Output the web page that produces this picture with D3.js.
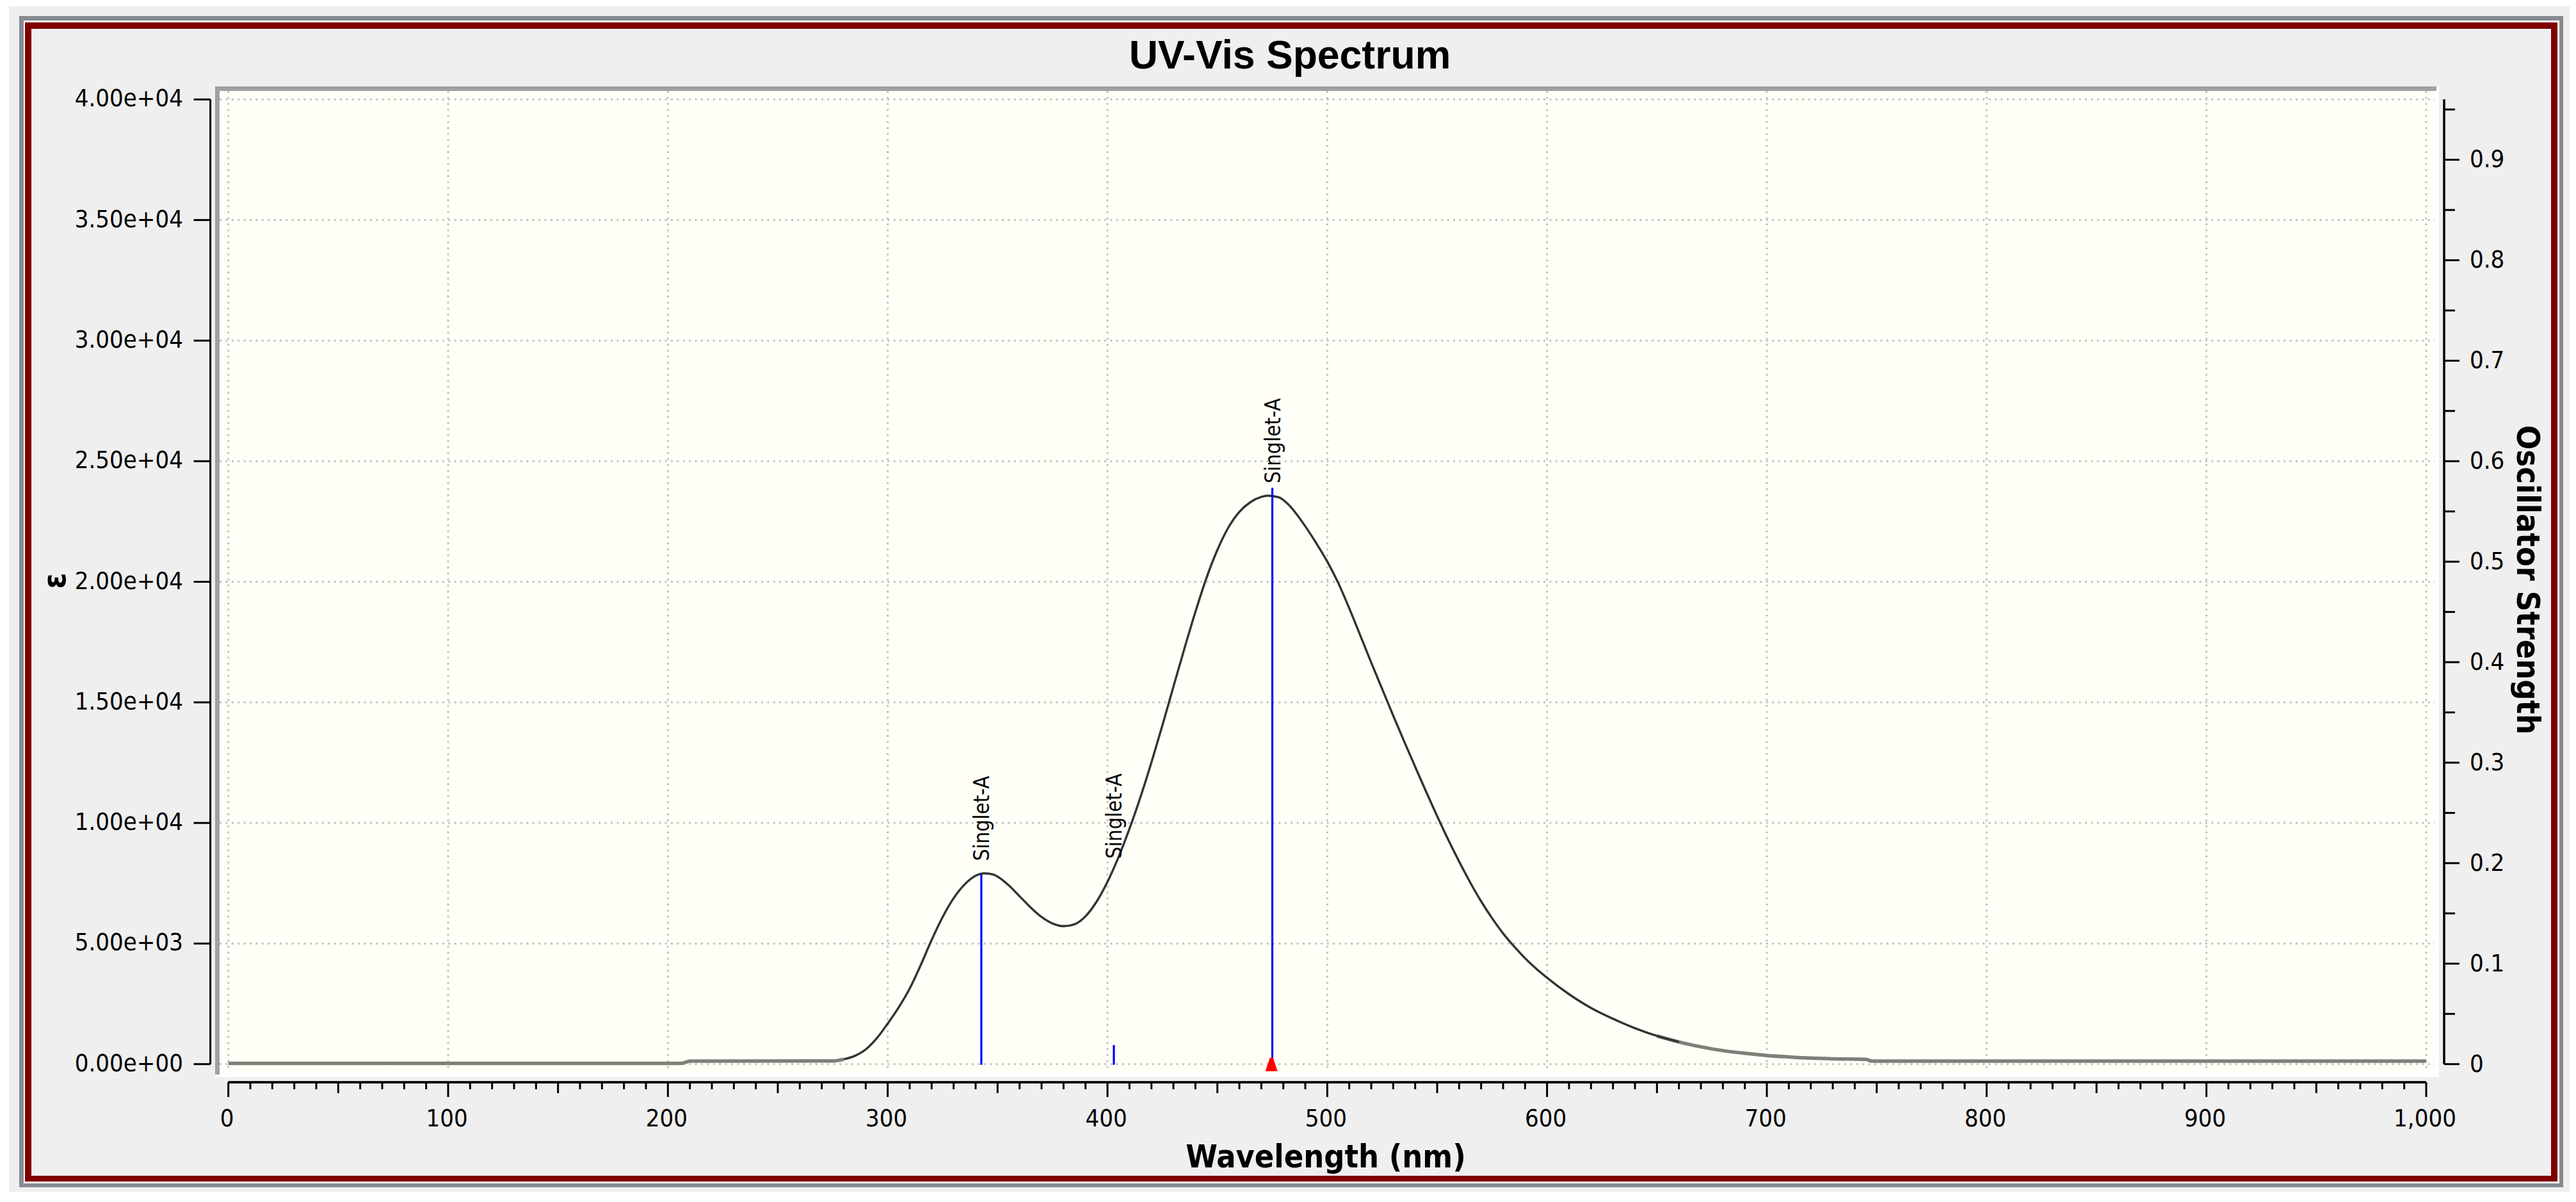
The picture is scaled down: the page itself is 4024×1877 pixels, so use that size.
<!DOCTYPE html>
<html>
<head>
<meta charset="utf-8">
<script src="https://cdnjs.cloudflare.com/ajax/libs/d3/7.8.5/d3.min.js"></script>
<style>
html,body{margin:0;padding:0;background:#fff}
svg{display:block}
text{font-family:"DejaVu Sans",sans-serif;fill:#000}
.tick text,.stick-label{font-stretch:condensed}
.axis-title{font-weight:700;font-stretch:condensed}
</style>
</head>
<body>
<svg id="chart" width="4024" height="1877"></svg>
<script>
const chartTitle = "UV-Vis Spectrum";
const xTitle = "Wavelength (nm)";
const yTitle = "ε";
const y2Title = "Oscillator Strength";

const wavelengths = [0,100,206,210,275,280,285,290,295,300,305,310,315,320,325,330,335,340,344,348,355,360,365,370,375,380,385,390,395,400,405,410,415,420,425,430,435,440,445,450,455,460,465,470,473,478,482,490,495,500,505,510,515,520,525,530,535,540,545,550,555,560,565,570,575,580,585,590,595,600,610,620,630,640,650,660,670,680,690,700,710,720,730,745,748,800,900,1000];
const epsilon = [30,30,30,125,130,200,340,610,1070,1680,2350,3130,4100,5150,6100,6880,7450,7810,7910,7860,7420,6960,6500,6100,5830,5720,5800,6130,6730,7560,8580,9760,11070,12510,14050,15650,17230,18750,20150,21320,22250,22900,23300,23520,23570,23500,23230,22300,21600,20840,19950,18900,17780,16650,15550,14450,13380,12330,11290,10280,9310,8400,7540,6750,6050,5420,4880,4390,3960,3580,2900,2330,1880,1490,1170,920,720,560,450,360,300,250,220,200,125,125,125,125];

const stickLambda = [342.6,402.9,475.0];
const stickStrength = [0.189,0.019,0.5736];
const stickLabels = ["Singlet-A","Singlet-A","Singlet-A"];
const stickLabelEpsilon = [8420,8515,24080];
const peakMarkerLambda = [474.6];

const xMajorTicks = [0,100,200,300,400,500,600,700,800,900,1000];
const xTickLabels = ["0","100","200","300","400","500","600","700","800","900","1,000"];
const yTicks = [0,5000,10000,15000,20000,25000,30000,35000,40000];
const yTickLabels = ["0.00e+00","5.00e+03","1.00e+04","1.50e+04","2.00e+04","2.50e+04","3.00e+04","3.50e+04","4.00e+04"];
const y2Ticks = [0,0.1,0.2,0.3,0.4,0.5,0.6,0.7,0.8,0.9];
const y2TickLabels = ["0","0.1","0.2","0.3","0.4","0.5","0.6","0.7","0.8","0.9"];

const svg = d3.select("#chart");
const X0=356.7, X1=3790, Y0=1661.7, Y1=155.3;
const x = d3.scaleLinear().domain([0,1000]).range([X0,X1]);
const y = d3.scaleLinear().domain([0,40000]).range([Y0,Y1]);
const y2 = d3.scaleLinear().domain([0,0.96]).range([Y0,Y1]);

function box(xa,ya,xb,yb,fill){svg.append("rect").attr("x",xa).attr("y",ya).attr("width",xb-xa).attr("height",yb-ya).attr("fill",fill);}
box(14,10,4014,1861,"#efefef");
box(30,25,4004,1854,"#868a91");
box(37,32,3998,1848,"#ffffff");
box(39,35,3995,1845,"#800000");
box(49,45,3985,1836,"#efefef");
// plot area
box(336,135,3810,1682,"#ffffff");
box(336,135,3806,142,"#a0a0a0");
box(336,135,343,1678,"#a0a0a0");
box(343,142,3805,1677,"#fffff8");

// grid
const grid = svg.append("g").attr("stroke","#c2c2c2").attr("stroke-width",3).attr("stroke-dasharray","3 6.4").attr("fill","none");
grid.selectAll("line.v").data(xMajorTicks).join("line").attr("class","v")
  .attr("x1",d=>x(d)).attr("x2",d=>x(d)).attr("y1",142).attr("y2",1668);
grid.selectAll("line.h").data(yTicks).join("line").attr("class","h")
  .attr("y1",d=>y(d)).attr("y2",d=>y(d)).attr("x1",343).attr("x2",3803);

// curve
const pts = wavelengths.map((w,i)=>[w,epsilon[i]]);
const line = d3.line().x(d=>x(d[0])).y(d=>y(d[1])).curve(d3.curveMonotoneX);
const flatTails = [pts.filter(d=>d[0]<=280), pts.filter(d=>d[0]>=650)];
svg.append("g").selectAll("path").data(flatTails).join("path")
  .attr("d",line).attr("fill","none").attr("stroke","#7f7f78").attr("stroke-width",5.5);
svg.append("path").datum(pts.filter(d=>d[0]>=280&&d[0]<=660)).attr("d",line)
  .attr("fill","none").attr("stroke","#333330").attr("stroke-width",3.4);

// sticks
svg.append("g").selectAll("line").data(stickLambda).join("line")
  .attr("x1",d=>x(d)).attr("x2",d=>x(d))
  .attr("y1",y2(0)+1).attr("y2",(d,i)=>y2(stickStrength[i]))
  .attr("stroke","#0000ff").attr("stroke-width",3.2);
svg.append("g").selectAll("text").data(stickLambda).join("text")
  .attr("class","stick-label")
  .attr("transform",(d,i)=>`translate(${x(d)+12},${y(stickLabelEpsilon[i])}) rotate(-90)`)
  .attr("font-size",33)
  .text((d,i)=>stickLabels[i]);

// peak marker
svg.append("g").selectAll("polygon").data(peakMarkerLambda).join("polygon")
  .attr("points",d=>{const c=x(d),b=y(0);return [[c-9.5,b+11],[c+9.5,b+11],[c+2.5,b-10],[c-2.5,b-10]].map(p=>p.join(",")).join(" ");})
  .attr("fill","#ff0000");

// axes
function styleAxis(g){
  g.selectAll("path.domain").attr("stroke","#000").attr("stroke-width",3).attr("fill","none");
  g.selectAll("line").attr("stroke","#000").attr("stroke-width",3);
}
const AX_Y=1690;
function xMinor(values,size){
  svg.append("g").attr("transform",`translate(0,${AX_Y})`)
    .call(d3.axisBottom(x).tickValues(values).tickSize(size).tickSizeOuter(0).tickFormat("").offset(0))
    .call(styleAxis);
}
const minorTicks = d3.range(0,1001,10).filter(v=>v%50!==0);
const midTicks = d3.range(50,1000,100);
xMinor(minorTicks,11);
xMinor(midTicks,17);
const gx = svg.append("g").attr("transform",`translate(0,${AX_Y})`)
  .call(d3.axisBottom(x).tickValues(xMajorTicks).tickSize(23).tickSizeOuter(0).offset(0)
    .tickFormat((d,i)=>xTickLabels[i]))
  .call(styleAxis);
gx.selectAll("text").attr("font-size",38).attr("dy",0).attr("y",69).attr("x",-2);

const gy = svg.append("g").attr("transform","translate(328.6,0)")
  .call(d3.axisLeft(y).tickValues(yTicks).tickSize(26).tickSizeOuter(0).offset(0)
    .tickFormat((d,i)=>yTickLabels[i]))
  .call(styleAxis);
gy.selectAll("text").attr("font-size",38).attr("dy",0).attr("y",11).attr("x",-42.6).attr("text-anchor","end");

const minorY2 = d3.range(0,10).map(i=>i/10+0.05);
svg.append("g").attr("transform","translate(3818,0)")
  .call(d3.axisRight(y2).tickValues(minorY2).tickSize(17).tickSizeOuter(0).tickFormat("").offset(0))
  .call(styleAxis);
const gy2 = svg.append("g").attr("transform","translate(3818,0)")
  .call(d3.axisRight(y2).tickValues(y2Ticks).tickSize(24).tickSizeOuter(0).offset(0)
    .tickFormat((d,i)=>y2TickLabels[i]))
  .call(styleAxis);
gy2.selectAll("text").attr("font-size",38).attr("dy",0).attr("y",12).attr("x",40);

// titles
svg.append("text").attr("x",2015).attr("y",107).attr("text-anchor","middle")
  .attr("font-size",62.5).attr("font-weight",700).style("font-family","'Liberation Sans',sans-serif").text(chartTitle);
svg.append("text").attr("class","axis-title").attr("x",2071).attr("y",1823).attr("text-anchor","middle")
  .attr("font-size",50).text(xTitle);
svg.append("text").attr("class","axis-title").attr("transform","translate(3932,905.5) rotate(90)")
  .attr("text-anchor","middle").attr("font-size",50).text(y2Title);
svg.append("text").attr("class","axis-title").attr("transform","translate(102,907) rotate(-90)")
  .attr("text-anchor","middle").attr("font-size",50).text(yTitle);
</script>
</body>
</html>
